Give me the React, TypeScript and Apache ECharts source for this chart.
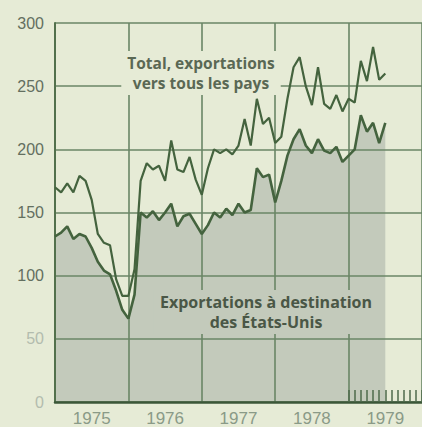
import React, { useEffect, useRef } from "react";
import * as echarts from "echarts";

const years = ["1975", "1976", "1977", "1978", "1979"];
const monthCategories: string[] = [
  ...years.flatMap((y) =>
    Array.from({ length: 12 }, (_, m) => `${y}-${String(m + 1).padStart(2, "0")}`)
  ),
  "1980-01",
];

// Total, exportations vers tous les pays (monthly, Jan 1975 ->)
const totalExports = [
  170, 166, 173, 166, 179, 175, 160, 133, 126, 124, 97, 84,
  84, 105, 175, 189, 184, 187, 175, 207, 184, 182, 194, 176,
  164, 185, 200, 197, 200, 196, 203, 224, 203, 240, 220, 225,
  205, 210, 240, 265, 273, 250, 235, 265, 236, 232, 243, 230,
  240, 237, 270, 254, 281, 255, 260,
];

// Exportations à destination des États-Unis
const usExports = [
  131, 134, 139, 129, 133, 131, 122, 111, 104, 101, 88, 73,
  66, 85, 150, 146, 151, 144, 150, 157, 139, 147, 149, 141,
  133, 140, 150, 146, 153, 148, 157, 150, 152, 185, 178, 180,
  158, 175, 195, 208, 216, 203, 197, 208, 199, 197, 202, 190,
  195, 200, 227, 214, 221, 205, 221,
];

const BG = "#e6ebd6";
const FILL = "#c3cabb";
const LINE = "#44633e";
const GRID = "#6a8666";

export default function App() {
  const ref = useRef<HTMLDivElement>(null);
  useEffect(() => {
    if (!ref.current) return;
    const chart = echarts.init(ref.current, null, { renderer: "svg" });
    chart.setOption({
      animation: false,
      backgroundColor: BG,
      grid: { left: 55, right: -11, top: 23, bottom: 23, containLabel: false },
      xAxis: {
        type: "category",
        data: monthCategories,
        boundaryGap: false,
        z: 2,
        axisLine: { show: true, lineStyle: { color: "#3b5738", width: 2.5 } },
        axisTick: {
          show: true,
          inside: true,
          length: 12,
          interval: (i: number) => i >= 48,
          lineStyle: { color: "#4e6a4b", width: 1.5 },
        },
        axisLabel: {
          interval: (i: number) => i % 12 === 6,
          formatter: (v: string) => v.slice(0, 4),
          color: "#8a9a87",
          fontFamily: "Liberation Sans",
          fontSize: 17,
          margin: 8,
        },
        splitLine: {
          show: true,
          interval: (i: number) => i % 12 === 0,
          lineStyle: { color: GRID, width: 1.6 },
        },
      },
      yAxis: {
        type: "value",
        min: 0,
        max: 300,
        interval: 50,
        z: 2,
        axisLine: { show: true, lineStyle: { color: "#52704c", width: 2 } },
        axisTick: { show: false },
        axisLabel: {
          color: (v: number) => (v <= 50 ? "#b3bcae" : "#636f60"),
          fontFamily: "Liberation Sans",
          fontSize: 16,
          margin: 11,
        },
        splitLine: { show: true, lineStyle: { color: GRID, width: 1.6 } },
      },
      graphic: [
        {
          type: "text",
          x: 201,
          y: 73,
          z: 10,
          style: {
            text: "Total, exportations\nvers tous les pays",
            align: "center",
            verticalAlign: "middle",
            font: "bold 15.5px 'Open Sans'",
            lineHeight: 20,
            fill: "#5a6854",
            backgroundColor: BG,
            padding: [2, 6],
          },
        },
        {
          type: "text",
          x: 266,
          y: 312,
          z: 10,
          style: {
            text: "Exportations à destination\ndes États-Unis",
            align: "center",
            verticalAlign: "middle",
            font: "bold 16px 'Open Sans'",
            lineHeight: 20,
            fill: "#4a5746",
            backgroundColor: FILL,
            padding: [2, 6],
          },
        },
      ],
      series: [
        {
          type: "line",
          data: usExports,
          z: 1,
          symbol: "none",
          lineStyle: { width: 0 },
          areaStyle: { color: FILL, opacity: 1 },
        },
        {
          type: "line",
          data: totalExports,
          z: 5,
          symbol: "none",
          lineStyle: { color: LINE, width: 2.2 },
        },
        {
          type: "line",
          data: usExports,
          z: 5,
          symbol: "none",
          lineStyle: { color: LINE, width: 2.6 },
        },
      ],
    });
    return () => chart.dispose();
  }, []);
  return (
    <div
      ref={ref}
      style={{ position: "fixed", left: 0, top: 0, width: 422, height: 427, background: BG }}
    />
  );
}
